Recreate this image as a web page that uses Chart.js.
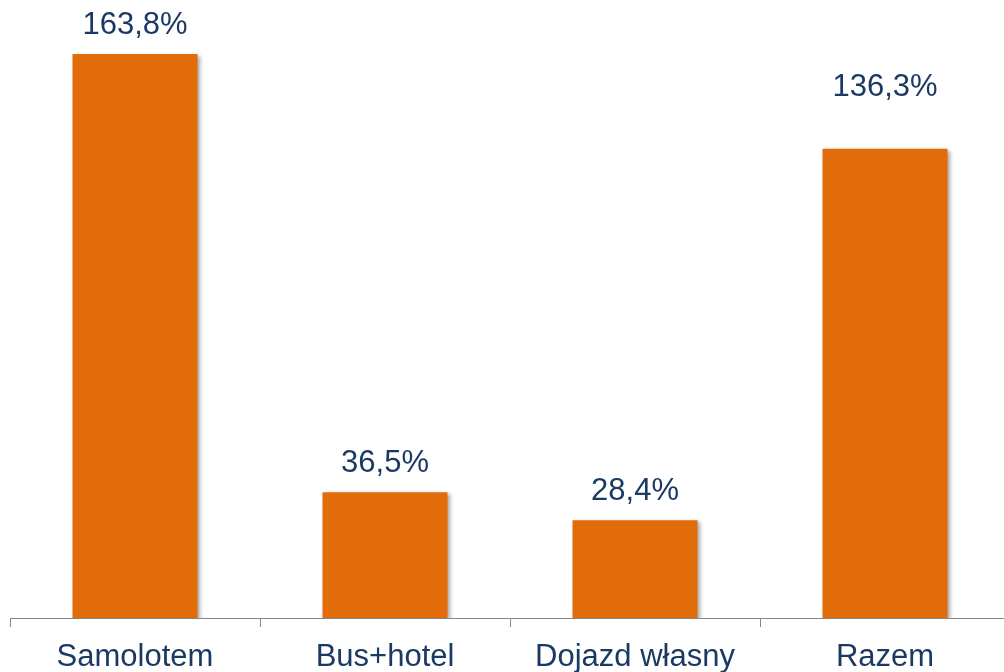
<!DOCTYPE html>
<html>
<head>
<meta charset="utf-8">
<script src="https://cdn.jsdelivr.net/npm/chart.js@4/dist/chart.umd.min.js"></script>
<style>
  html, body { margin: 0; padding: 0; background: #fff; overflow: hidden; }
  #wrap { width: 1010px; height: 672px; }
</style>
</head>
<body>
<div id="wrap"><canvas id="chart" width="1010" height="672"></canvas></div>
<script>
const categories = ["Samolotem", "Bus+hotel", "Dojazd własny", "Razem"];
const values = [163.8, 36.5, 28.4, 136.3];
const valueLabels = ["163,8%", "36,5%", "28,4%", "136,3%"];

// gap between bar top and the label centre (Razem sits higher in the original)
const labelOffsets = [29, 29, 29, 61];

const textColor = "#1b3a63";
const barColor = "#e36c0a";

const shadowPlugin = {
  id: "barShadow",
  beforeDatasetsDraw(chart) {
    const ctx = chart.ctx;
    ctx.save();
    ctx.shadowColor = "rgba(0,0,0,0.35)";
    ctx.shadowBlur = 4;
    ctx.shadowOffsetX = 2;
    ctx.shadowOffsetY = 2;
  },
  afterDatasetsDraw(chart) {
    chart.ctx.restore();
  },
};

const valueLabelPlugin = {
  id: "valueLabels",
  afterDraw(chart) {
    const ctx = chart.ctx;
    const meta = chart.getDatasetMeta(0);
    ctx.save();
    ctx.font = "31px 'Liberation Sans', Arial, sans-serif";
    ctx.fillStyle = textColor;
    ctx.textAlign = "center";
    ctx.textBaseline = "middle";
    meta.data.forEach((bar, i) => {
      ctx.fillText(valueLabels[i], bar.x, bar.y - labelOffsets[i]);
    });
    ctx.restore();
  },
};

const ctx = document.getElementById("chart").getContext("2d");

const chart = new Chart(ctx, {
  type: "bar",
  data: {
    labels: categories,
    datasets: [
      {
        data: values,
        backgroundColor: barColor,
        borderWidth: 0,
        categoryPercentage: 1,
        barPercentage: 0.5,
      },
    ],
  },
  options: {
    responsive: false,
    animation: false,
    layout: { padding: { left: 10, right: 0, top: 0, bottom: 0 } },
    plugins: {
      legend: { display: false },
      tooltip: { enabled: false },
    },
    scales: {
      x: {
        offset: true,
        grid: {
          display: true,
          offset: true,
          drawOnChartArea: false,
          drawTicks: true,
          tickLength: 9,
          color: "#868686",
        },
        border: { display: true, color: "#868686", width: 1 },
        ticks: {
          color: textColor,
          padding: 12,
          font: { family: "'Liberation Sans', Arial, sans-serif", size: 31 },
        },
        afterFit(scale) {
          scale.height = 54;
        },
      },
      y: {
        display: false,
        min: 0,
        max: 179.5,
      },
    },
  },
  plugins: [shadowPlugin, valueLabelPlugin],
});
</script>
</body>
</html>
